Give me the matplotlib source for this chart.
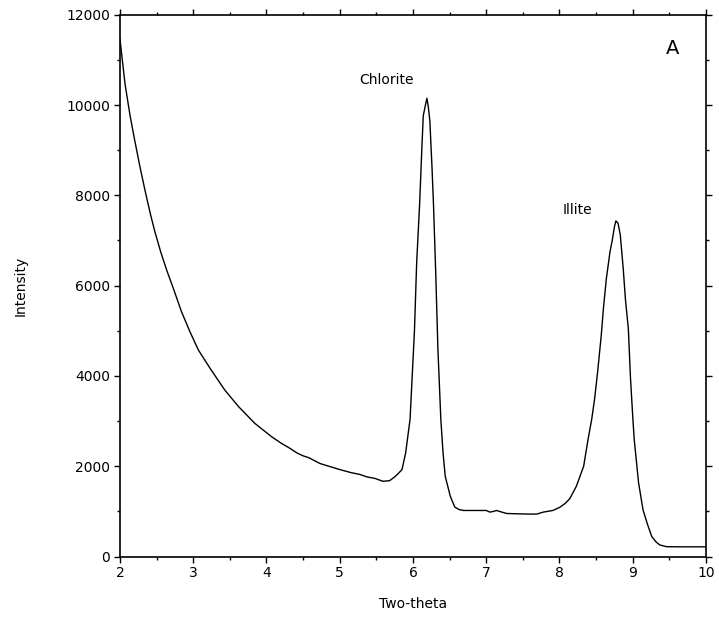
import matplotlib.pyplot as plt
from matplotlib.ticker import MultipleLocator

# trace (two-theta, intensity)
two_theta = [2.00, 2.07, 2.14, 2.20, 2.27, 2.34, 2.41, 2.47, 2.555, 2.64, 2.73,
             2.84, 2.96, 3.07, 3.23, 3.43, 3.62, 3.84, 4.07, 4.20,
             4.32, 4.42, 4.50, 4.58, 4.73, 4.85, 5.00, 5.15, 5.28, 5.37, 5.48, 5.59,
             5.68, 5.75, 5.80, 5.85, 5.90, 5.96, 6.02, 6.05, 6.09, 6.12, 6.14,
             6.17, 6.19, 6.21, 6.23, 6.26, 6.28, 6.31, 6.34, 6.38, 6.41, 6.44,
             6.51, 6.57, 6.63, 6.69, 6.85, 7.00, 7.05, 7.10, 7.14, 7.20, 7.28,
             7.45, 7.60, 7.69, 7.78, 7.91, 8.01, 8.08, 8.14, 8.23, 8.33, 8.39,
             8.44, 8.48, 8.52, 8.57, 8.60, 8.64, 8.69, 8.72, 8.75, 8.77, 8.80,
             8.83, 8.87, 8.90, 8.94, 8.97, 9.00, 9.02, 9.08, 9.14, 9.20, 9.26,
             9.32, 9.37, 9.46, 9.60, 9.80, 10.00]
intensity = [11450, 10450, 9740, 9225, 8650, 8120, 7620, 7230, 6750, 6330, 5930,
             5420, 4960, 4574, 4168, 3688, 3318, 2950, 2653, 2510,
             2396, 2290, 2230, 2187, 2060, 2000, 1926, 1860, 1815, 1764, 1730, 1666,
             1680, 1764, 1840, 1926, 2298, 3040, 5000, 6500, 7790, 9000, 9760,
             10000, 10150, 9950, 9650, 8600, 7790, 6300, 4600, 3040, 2300, 1777,
             1332, 1096, 1040, 1020, 1020, 1020, 984, 1000, 1020, 990, 953,
             945, 940, 940, 984, 1020, 1096, 1180, 1280, 1555, 2000, 2595,
             3040, 3500, 4080, 4895, 5500, 6158, 6753, 7000, 7300, 7434, 7380,
             7122, 6380, 5700, 5045, 3930, 3100, 2595, 1630, 1036, 720, 441,
             320, 256, 218, 215, 215, 215]

x_ticks = [2, 3, 4, 5, 6, 7, 8, 9, 10]
y_ticks = [0, 2000, 4000, 6000, 8000, 10000, 12000]

peak_names = ['Chlorite', 'Illite']
peak_label_x = [5.645, 8.25]
peak_label_y = [10550, 7675]

plt.rcParams['font.family'] = ['DejaVu Sans']

fig = plt.figure(figsize=(7.19, 6.23), dpi=100)
ax = fig.add_axes([0.1669, 0.1067, 0.815, 0.8697])

ax.plot(two_theta, intensity, color='black', linewidth=1.0)

ax.set_xlim(2, 10)
ax.set_ylim(0, 12000)
ax.set_xticks(x_ticks)
ax.set_yticks(y_ticks)
ax.xaxis.set_minor_locator(MultipleLocator(0.5))
ax.yaxis.set_minor_locator(MultipleLocator(1000))

ax.tick_params(which='both', direction='out', top=True, right=True,
               labeltop=False, labelright=False, labelsize=10, width=1.0)
ax.tick_params(which='major', length=4, pad=3)
ax.tick_params(which='minor', length=2)
for s in ax.spines.values():
    s.set_linewidth(1.2)

ax.set_xlabel('Two-theta', fontsize=10, labelpad=12)
ax.set_ylabel('Intensity', fontsize=10, labelpad=28)

for name, tx, ty in zip(peak_names, peak_label_x, peak_label_y):
    ax.text(tx, ty, name, ha='center', va='center', fontsize=10)
ax.text(9.54, 11260, 'A', ha='center', va='center', fontsize=14)

fig.savefig('out.png', dpi=100)
